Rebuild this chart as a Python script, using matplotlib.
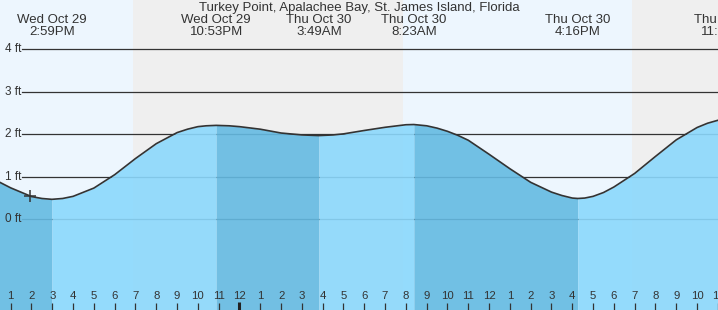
import numpy as np
import matplotlib.pyplot as plt
import matplotlib.transforms as mtransforms

plt.rcParams['font.family'] = ['Liberation Sans', 'DejaVu Sans']

# hours relative to midnight Wed/Thu Oct 30, tide height in ft
hours = [-12, -11, -10, -9.5, -9.017, -8.5, -8, -7, -6, -5, -4, -3, -2.5, -2, -1.6, -1.117,
         -0.5, 0, 1, 2, 3, 3.817, 4.5, 5, 6, 7, 8, 8.383, 9, 9.5, 10, 10.5, 11, 12, 13, 14,
         15, 15.5, 16, 16.267, 16.6, 17, 17.5, 18, 19, 20, 21, 22, 22.5, 23, 23.43]
height = [0.99, 0.74, 0.535, 0.49, 0.47, 0.49, 0.54, 0.735, 1.05, 1.43, 1.78, 2.04, 2.12,
          2.18, 2.20, 2.21, 2.20, 2.18, 2.12, 2.03, 1.985, 1.97, 1.985, 2.01, 2.09, 2.165,
          2.225, 2.23, 2.20, 2.145, 2.07, 1.975, 1.86, 1.53, 1.19, 0.87, 0.64, 0.56, 0.50,
          0.49, 0.50, 0.54, 0.63, 0.76, 1.08, 1.48, 1.87, 2.16, 2.26, 2.33, 2.35]

# high / low tide events
ev_t = [-9.017, -1.117, 3.817, 8.383, 16.267, 23.43]
ev_day = ['Wed Oct 29', 'Wed Oct 29', 'Thu Oct 30', 'Thu Oct 30', 'Thu Oct 30', 'Thu Oct 30']
ev_time = ['2:59PM', '10:53PM', '3:49AM', '8:23AM', '4:16PM', '11:26PM']

# sunset / sunrise
sunset1, sunrise, sunset2 = -5.117, 7.867, 18.867

now_t, now_h = -10.07, 0.55
ft_levels = [0, 1, 2, 3, 4]

t = np.array(hours)
h = np.array(height)

x0, x1 = -11.514, 23.005
y0, y1 = -2.134, 5.16

fig = plt.figure(figsize=(7.18, 3.10), dpi=100)
ax = fig.add_axes([0, 0, 1, 1])
ax.set_xlim(x0, x1)
ax.set_ylim(y0, y1)
ax.axis('off')

day_c = '#edf6fe'
night_c = '#efefef'
ax.axvspan(x0, sunset1, color=day_c, zorder=0, lw=0)
ax.axvspan(sunset1, sunrise, color=night_c, zorder=0, lw=0)
ax.axvspan(sunrise, sunset2, color=day_c, zorder=0, lw=0)
ax.axvspan(sunset2, x1, color=night_c, zorder=0, lw=0)

# grid lines and labels
for lv in ft_levels:
    ax.axhline(lv, xmin=22 / 718, xmax=1, color='#333333', lw=0.9, zorder=1)
    ax.text(-10.5, lv, f'{lv} ft', ha='right', va='center', fontsize=8.5,
            color='#333333', zorder=5)

# filled tide, alternating falling/rising
bounds = [x0 - 1] + [e for e in ev_t[:5]] + [x1 + 1]
light = '#8bd8fc'
dark = '#64bae2'
for i in range(len(bounds) - 1):
    a, b = bounds[i], bounds[i + 1]
    col = dark if i % 2 == 0 else light
    ax.fill_between(t, h, y0, where=(t >= a) & (t <= b), color=col,
                    alpha=0.9, lw=0, zorder=2)

ax.plot(t, h, color='#333333', lw=1.2, zorder=3)
ax.plot([now_t], [now_h], marker='+', ms=9, mew=1.1, color='#333333', zorder=4)

# top labels
trans = mtransforms.blended_transform_factory(ax.transData, ax.transAxes)
ax.text(0.5, 1 - 7.5 / 310, 'Turkey Point, Apalachee Bay, St. James Island, Florida',
        transform=ax.transAxes, ha='center', va='center', fontsize=9.5, color='#333333')
for et, d, tm in zip(ev_t, ev_day, ev_time):
    ax.text(et, 1 - 20 / 310, d, transform=trans, ha='center', va='center',
            fontsize=9.5, color='#333333', clip_on=False)
    ax.text(et, 1 - 32 / 310, tm, transform=trans, ha='center', va='center',
            fontsize=9.5, color='#333333', clip_on=False)

# hour ticks
for hr in range(-11, 24):
    lab = (hr % 12) or 12
    ax.text(hr, 1 - 296 / 310, str(lab), transform=trans, ha='center', va='center',
            fontsize=8.2, color='#333333', zorder=5)
    if hr == 0:
        ax.plot([hr, hr], [0, 8 / 310], transform=trans, color='#222222', lw=2.2,
                solid_capstyle='butt', zorder=5)
    else:
        ax.plot([hr, hr], [0, 7.5 / 310], transform=trans, color='#333333', lw=0.9,
                solid_capstyle='butt', zorder=5)

fig.savefig('out.png', dpi=100)
